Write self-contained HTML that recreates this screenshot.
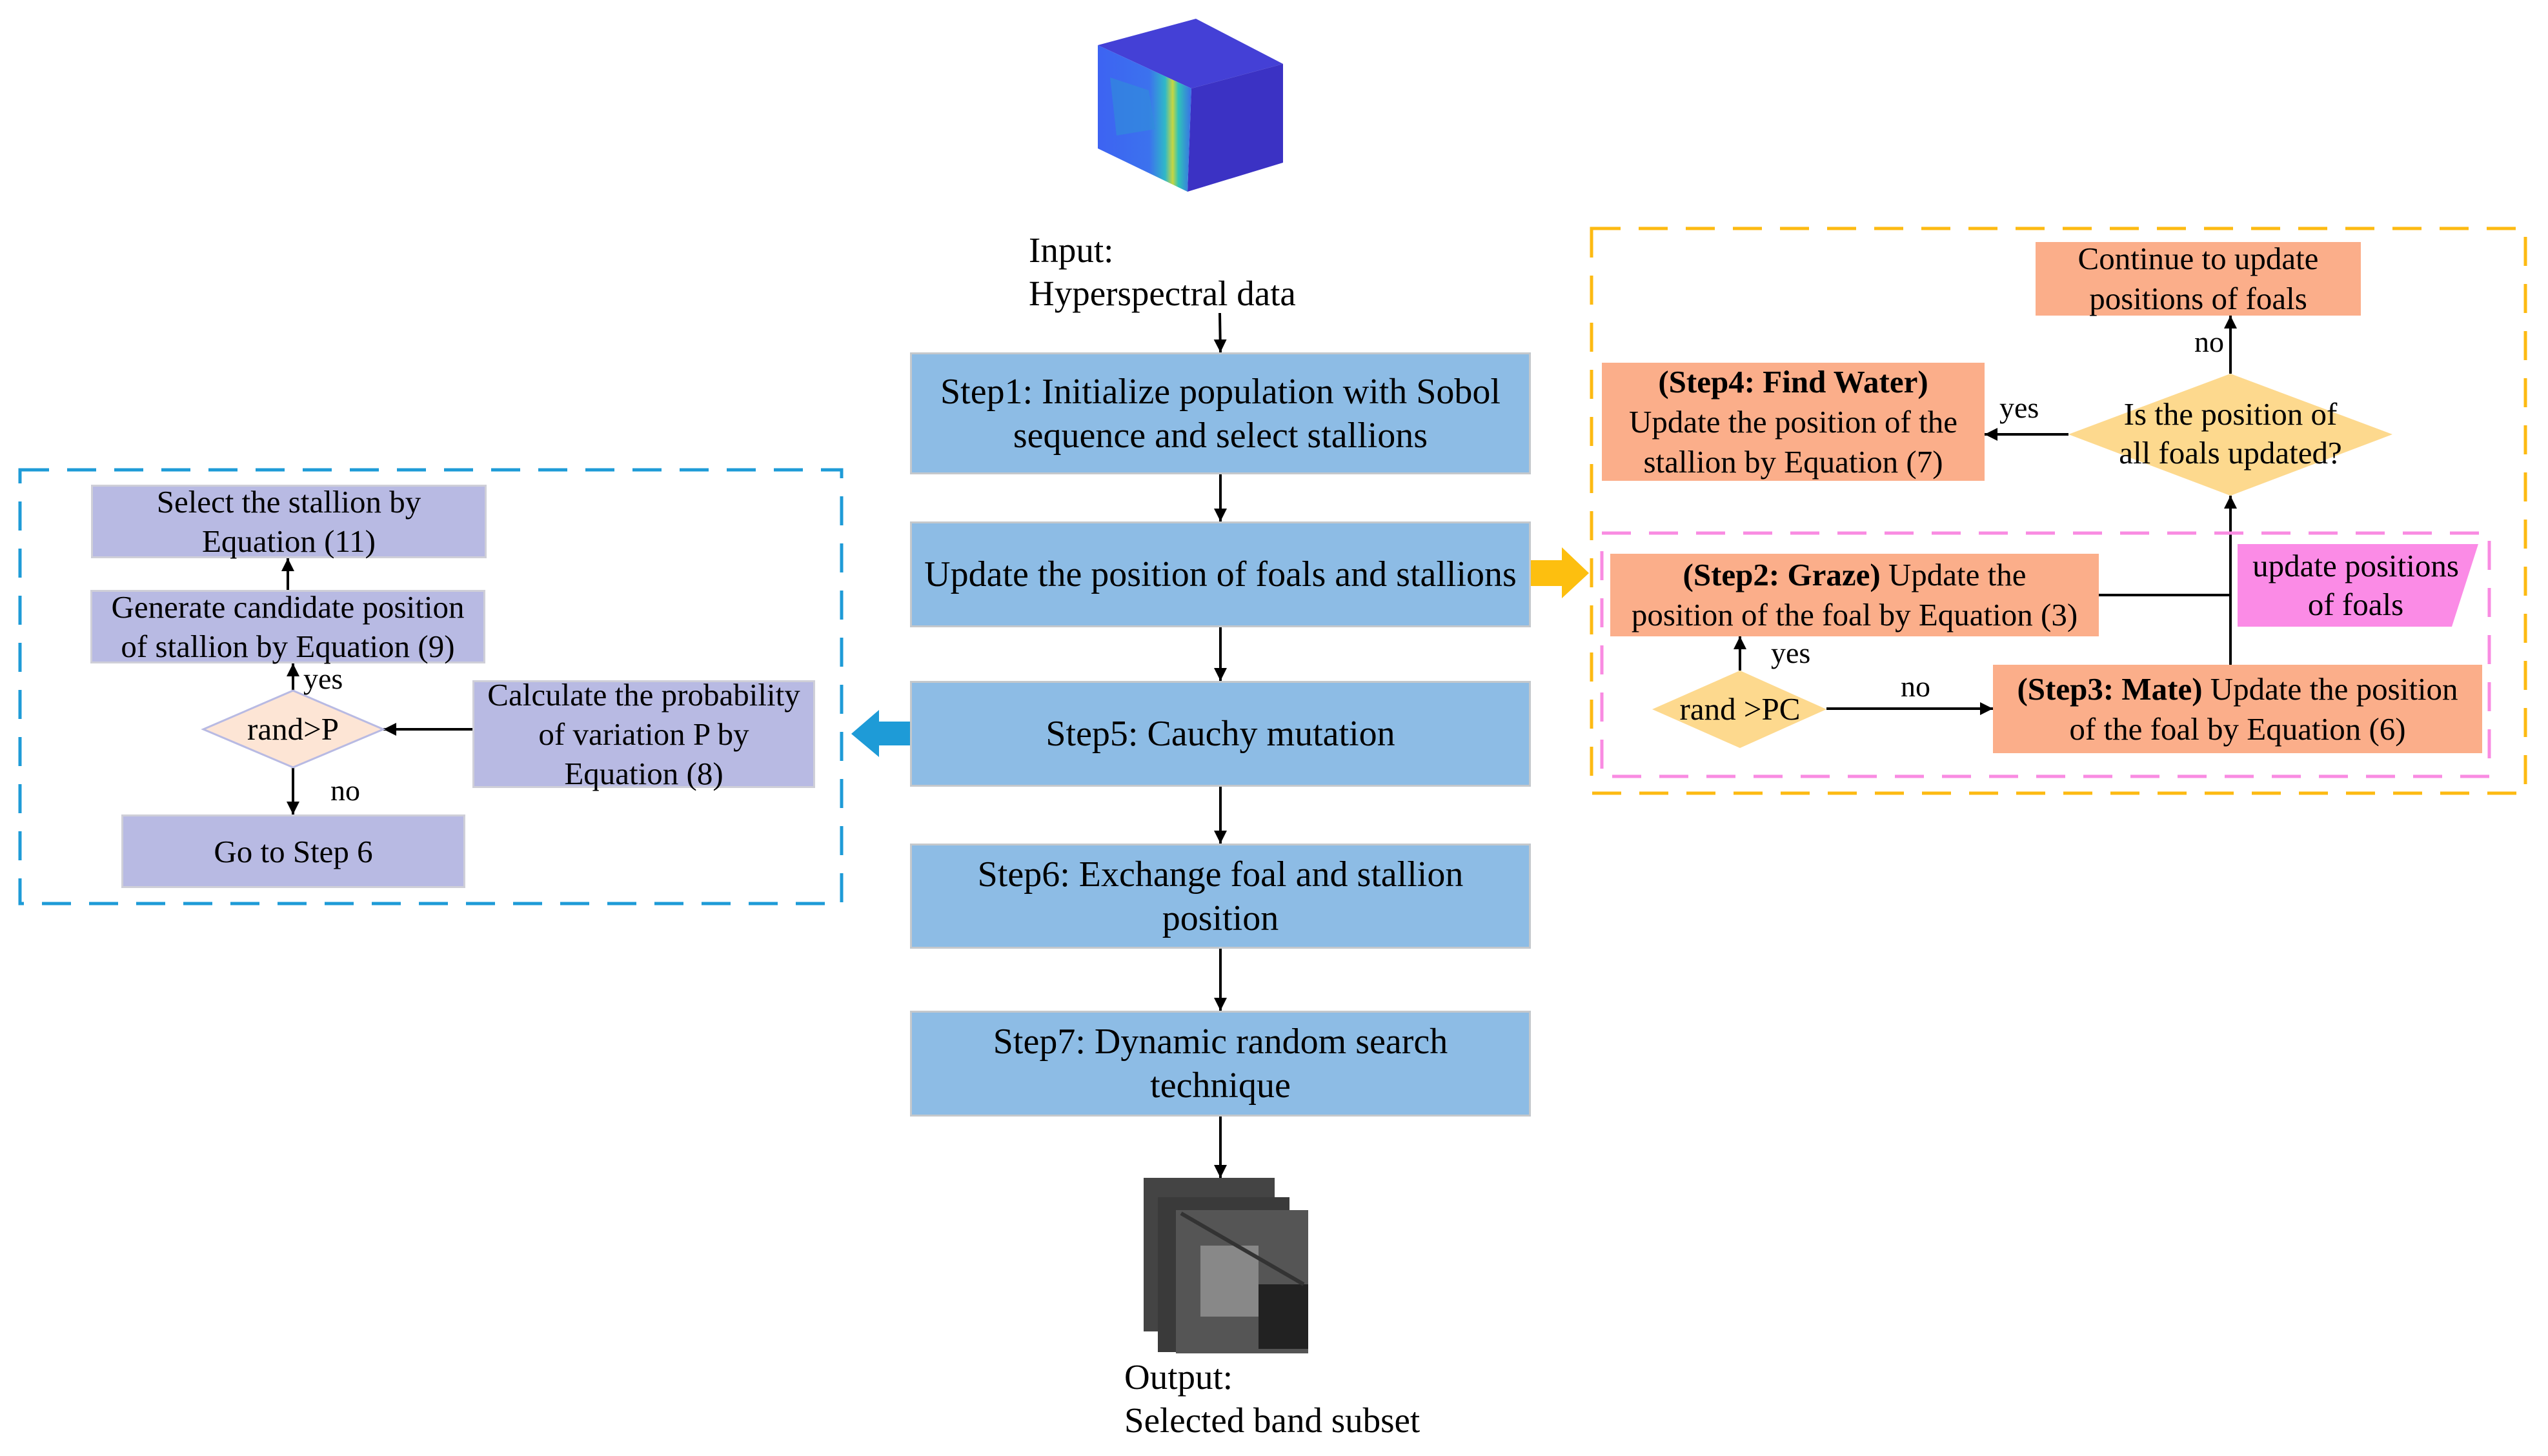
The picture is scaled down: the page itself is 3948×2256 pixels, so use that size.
<!DOCTYPE html>
<html><head><meta charset="utf-8"><style>
body{margin:0;width:3948px;height:2256px;background:#fff;position:relative;overflow:hidden;font-family:"Liberation Serif",serif;color:#000}
.b{position:absolute;display:flex;align-items:center;justify-content:center;text-align:center;box-sizing:border-box;line-height:1.3;white-space:nowrap}
.m{background:#8DBCE5;border:3px solid #c4c8cc;font-size:56px;line-height:68px}
.p{background:#B8BAE3;border:3px solid #cfcfd8;font-size:49px;line-height:61px}
.o{background:#FBAE8A;font-size:49px;line-height:62px}
.t{position:absolute;font-size:55px;white-space:nowrap;line-height:67px}
.s{position:absolute;font-size:46px;white-space:nowrap}
</style></head><body>
<svg width="3948" height="2256" style="position:absolute;left:0;top:0">
<defs>
<marker id="a" viewBox="0 0 10 10" refX="10" refY="5" markerWidth="5" markerHeight="5" orient="auto-start-reverse" markerUnits="strokeWidth"><path d="M0,0L10,5L0,10z" fill="#000"/></marker>
<linearGradient id="lf" x1="0" x2="1"><stop offset="0" stop-color="#3d63f2"/><stop offset="0.55" stop-color="#3c72ee"/><stop offset="0.72" stop-color="#2fb8c8"/><stop offset="0.8" stop-color="#c8d640"/><stop offset="0.86" stop-color="#2fc4b8"/><stop offset="1" stop-color="#3a6ee8"/></linearGradient>
</defs>
<polygon points="1701,70 1853,29 1988,99 1846,137" fill="#4440d6"/>
<polygon points="1846,137 1988,99 1988,252 1840,297" fill="#3b32c4"/>
<polygon points="1701,70 1846,137 1840,297 1701,230" fill="url(#lf)"/>
<polygon points="1720,120 1780,140 1790,200 1730,210" fill="#2f8fd8" opacity="0.6"/>
<rect x="1772" y="1825" width="203" height="238" fill="#444"/>
<rect x="1794" y="1855" width="204" height="240" fill="#3a3a3a"/>
<rect x="1822" y="1875" width="205" height="222" fill="#555"/>
<rect x="1860" y="1930" width="90" height="110" fill="#888"/>
<rect x="1950" y="1990" width="77" height="100" fill="#222"/>
<line x1="1830" y1="1880" x2="2020" y2="1990" stroke="#333" stroke-width="6"/>
<g stroke="#000" stroke-width="4" fill="none" marker-end="url(#a)">
<line x1="1890" y1="485" x2="1891" y2="546"/>
<line x1="1891" y1="735" x2="1891" y2="808"/>
<line x1="1891" y1="972" x2="1891" y2="1055"/>
<line x1="1891" y1="1219" x2="1891" y2="1307"/>
<line x1="1891" y1="1470" x2="1891" y2="1566"/>
<line x1="1891" y1="1730" x2="1891" y2="1825"/>
<line x1="446" y1="914" x2="446" y2="865"/>
<line x1="454" y1="1070" x2="454" y2="1028"/>
<line x1="732" y1="1130" x2="594" y2="1130"/>
<line x1="454" y1="1189" x2="454" y2="1262"/>
<line x1="3456" y1="579" x2="3456" y2="489"/>
<line x1="3205" y1="673" x2="3075" y2="673"/>
<line x1="3456" y1="1030" x2="3456" y2="768"/>
<line x1="2696" y1="1039" x2="2696" y2="986"/>
<line x1="2830" y1="1098" x2="3088" y2="1098"/>
</g>
<line x1="3252" y1="922" x2="3456" y2="922" stroke="#000" stroke-width="4"/>
<rect x="31" y="728" width="1273" height="672" fill="none" stroke="#1E9BD7" stroke-width="5" stroke-dasharray="45,28"/>
<rect x="2466" y="354" width="1447" height="875" fill="none" stroke="#FDBA12" stroke-width="5" stroke-dasharray="45,28"/>
<rect x="2482" y="826" width="1375" height="377" fill="none" stroke="#F98BE2" stroke-width="5" stroke-dasharray="45,28"/>
<polygon points="2372,868 2420,868 2420,848 2462,888 2420,927 2420,908 2372,908" fill="#FDBF0F"/>
<polygon points="1410,1118 1362,1118 1362,1100 1319,1137 1362,1173 1362,1155 1410,1155" fill="#1E9BD7"/>
<polygon points="315,1130 454,1070 594,1130 454,1189" fill="#FDE5D5" stroke="#B8BAE3" stroke-width="3"/>
<polygon points="3205,673 3456,579 3707,673 3456,768" fill="#FDD98E"/>
<polygon points="2560,1099 2696,1039 2830,1099 2696,1159" fill="#FDD98E"/>
<polygon points="3467,843 3840,843 3799,971 3467,971" fill="#FB8BE6"/>
<g font-family="Liberation Serif,serif" font-size="49" text-anchor="middle">
<text x="454" y="1146">rand&gt;P</text>
<text x="3456" y="658">Is the position of</text>
<text x="3456" y="718">all foals updated?</text>
<text x="2696" y="1115">rand &gt;PC</text>
<text x="3650" y="893">update positions</text>
<text x="3650" y="953">of foals</text>
</g>
</svg>
<div class="t" style="left:1594px;top:354px">Input:<br>Hyperspectral data</div>
<div class="t" style="left:1742px;top:2100px">Output:<br>Selected band subset</div>
<div class="b m" style="left:1410px;top:546px;width:962px;height:189px">Step1: Initialize population with Sobol<br>sequence and select stallions</div>
<div class="b m" style="left:1410px;top:808px;width:962px;height:164px">Update the position of foals and stallions</div>
<div class="b m" style="left:1410px;top:1055px;width:962px;height:164px">Step5: Cauchy mutation</div>
<div class="b m" style="left:1410px;top:1307px;width:962px;height:163px">Step6: Exchange foal and stallion<br>position</div>
<div class="b m" style="left:1410px;top:1566px;width:962px;height:164px">Step7: Dynamic random search<br>technique</div>
<div class="b p" style="left:141px;top:751px;width:613px;height:114px">Select the stallion by<br>Equation (11)</div>
<div class="b p" style="left:140px;top:914px;width:612px;height:114px">Generate candidate position<br>of stallion by Equation (9)</div>
<div class="b p" style="left:732px;top:1054px;width:531px;height:167px">Calculate the probability<br>of variation P by<br>Equation (8)</div>
<div class="b p" style="left:188px;top:1262px;width:533px;height:114px">Go to Step 6</div>
<div class="s" style="left:470px;top:1025px">yes</div>
<div class="s" style="left:512px;top:1198px">no</div>
<div class="b o" style="left:3154px;top:375px;width:504px;height:114px">Continue to update<br>positions of foals</div>
<div class="b o" style="left:2482px;top:562px;width:593px;height:183px"><span><b>(Step4: Find Water)</b><br>Update the position of the<br>stallion by Equation (7)</span></div>
<div class="b o" style="left:2495px;top:858px;width:757px;height:128px"><span><b>(Step2: Graze)</b> Update the<br>position of the foal by Equation (3)</span></div>
<div class="b o" style="left:3088px;top:1030px;width:758px;height:137px"><span><b>(Step3: Mate)</b> Update the position<br>of the foal by Equation (6)</span></div>
<div class="s" style="left:3098px;top:605px">yes</div>
<div class="s" style="left:3400px;top:503px">no</div>
<div class="s" style="left:2744px;top:985px">yes</div>
<div class="s" style="left:2945px;top:1037px">no</div>
</body></html>
